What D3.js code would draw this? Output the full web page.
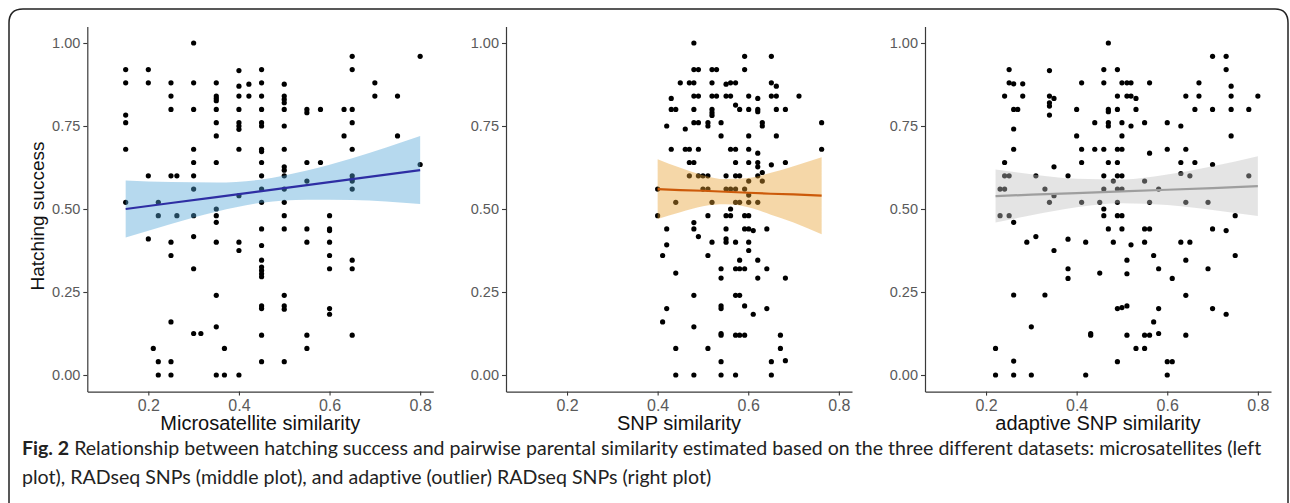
<!DOCTYPE html>
<html>
<head>
<meta charset="utf-8">
<script src="https://cdn.jsdelivr.net/npm/d3@7"></script>
<style>
	body { margin: 0; background: #fff; }
	svg { display: block; }
	.caption { font-variant-ligatures: none; }
</style>
</head>
<body>
<svg id="chart" width="1290" height="503"></svg>
<script>
//Data

const X_TICKS = [0.2, 0.4, 0.6, 0.8];
const Y_TICKS = [0, 0.25, 0.5, 0.75, 1];
const X_TITLES = ["Microsatellite similarity", "SNP similarity", "adaptive SNP similarity"];
const Y_TITLE = "Hatching success";
const CAPTION_BOLD = "Fig. 2";
const CAPTION_LINES = [
	" Relationship between hatching success and pairwise parental similarity estimated based on the three different datasets: microsatellites (left",
	"plot), RADseq SNPs (middle plot), and adaptive (outlier) RADseq SNPs (right plot)"
];

// microsatellites [similarity, hatching success]
const microsatPoints = [
	[0.15, 0.92], [0.15, 0.88], [0.15, 0.783], [0.15, 0.76], [0.15, 0.68], [0.15, 0.52],
	[0.20, 0.92], [0.20, 0.88], [0.20, 0.60], [0.20, 0.41], [0.211, 0.08],
	[0.222, 0.52], [0.222, 0.48], [0.222, 0.04], [0.222, 0],
	[0.25, 0.88], [0.25, 0.84], [0.25, 0.80], [0.25, 0.60], [0.25, 0.40], [0.25, 0.36], [0.25, 0.16], [0.25, 0.04], [0.25, 0],
	[0.263, 0.60], [0.263, 0.48],
	[0.30, 1.0], [0.30, 0.88], [0.30, 0.80], [0.30, 0.68], [0.30, 0.64], [0.30, 0.60], [0.30, 0.56], [0.30, 0.48], [0.30, 0.417], [0.30, 0.32], [0.30, 0.125],
	[0.316, 0.125],
	[0.35, 0.88], [0.35, 0.84], [0.35, 0.833], [0.35, 0.826], [0.35, 0.80], [0.35, 0.76], [0.35, 0.72], [0.35, 0.64], [0.35, 0.50], [0.35, 0.48], [0.35, 0.46], [0.35, 0.40], [0.35, 0.24], [0.35, 0.145], [0.35, 0],
	[0.368, 0.08], [0.368, 0],
	[0.40, 0.917], [0.40, 0.87], [0.40, 0.84], [0.40, 0.80], [0.40, 0.76], [0.40, 0.75], [0.40, 0.74], [0.40, 0.68], [0.40, 0.54], [0.40, 0.40], [0.40, 0.375], [0.40, 0],
	[0.422, 0.876], [0.422, 0.84],
	[0.45, 0.92], [0.45, 0.88], [0.45, 0.84], [0.45, 0.80], [0.45, 0.76], [0.45, 0.75], [0.45, 0.68], [0.45, 0.673], [0.45, 0.64], [0.45, 0.60], [0.45, 0.56], [0.45, 0.52], [0.45, 0.44], [0.45, 0.39],
	[0.45, 0.346], [0.45, 0.325], [0.45, 0.315], [0.45, 0.305], [0.45, 0.296], [0.45, 0.208], [0.45, 0.20], [0.45, 0.12], [0.45, 0.04],
	[0.50, 0.876], [0.50, 0.84], [0.50, 0.83], [0.50, 0.82], [0.50, 0.80], [0.50, 0.75], [0.50, 0.68], [0.50, 0.627], [0.50, 0.617], [0.50, 0.60], [0.50, 0.56], [0.50, 0.52], [0.50, 0.48], [0.50, 0.44],
	[0.50, 0.24], [0.50, 0.208], [0.50, 0.198], [0.50, 0.04],
	[0.55, 0.80], [0.55, 0.79], [0.55, 0.64], [0.55, 0.584], [0.55, 0.44], [0.55, 0.40], [0.55, 0.12], [0.55, 0.08],
	[0.58, 0.80], [0.58, 0.64],
	[0.60, 0.48], [0.60, 0.44], [0.60, 0.435], [0.60, 0.40], [0.60, 0.36], [0.60, 0.32], [0.60, 0.20], [0.60, 0.183],
	[0.632, 0.80], [0.632, 0.72],
	[0.65, 0.96], [0.65, 0.92], [0.65, 0.80], [0.65, 0.76], [0.65, 0.68], [0.65, 0.60], [0.65, 0.59], [0.65, 0.584], [0.65, 0.56], [0.65, 0.346], [0.65, 0.32], [0.65, 0.12],
	[0.70, 0.88], [0.70, 0.84], [0.75, 0.84], [0.75, 0.72], [0.80, 0.96], [0.80, 0.634]
];

// RADseq SNPs
const snpPoints = [
	[0.48, 1.0], [0.592, 0.96], [0.651, 0.96],
	[0.48, 0.92], [0.49, 0.92], [0.52, 0.92], [0.53, 0.92], [0.592, 0.92],
	[0.45, 0.88], [0.47, 0.88], [0.48, 0.88], [0.52, 0.88], [0.551, 0.876], [0.561, 0.88], [0.572, 0.88], [0.651, 0.88], [0.662, 0.87],
	[0.48, 0.84], [0.49, 0.84], [0.52, 0.84], [0.53, 0.84], [0.551, 0.84], [0.561, 0.84], [0.601, 0.84], [0.651, 0.84], [0.662, 0.84], [0.712, 0.84], [0.43, 0.833], [0.621, 0.833],
	[0.43, 0.80], [0.44, 0.80], [0.48, 0.80], [0.52, 0.80], [0.572, 0.813], [0.581, 0.80], [0.601, 0.80], [0.621, 0.80], [0.662, 0.80], [0.682, 0.80], [0.52, 0.79], [0.52, 0.782], [0.621, 0.793],
	[0.48, 0.76], [0.49, 0.76], [0.511, 0.76], [0.54, 0.76], [0.631, 0.76], [0.762, 0.76], [0.42, 0.75], [0.461, 0.741], [0.511, 0.75], [0.631, 0.75],
	[0.54, 0.72], [0.601, 0.72], [0.662, 0.72],
	[0.43, 0.68], [0.461, 0.68], [0.47, 0.68], [0.49, 0.68], [0.561, 0.68], [0.572, 0.68], [0.601, 0.68], [0.762, 0.68], [0.621, 0.668],
	[0.47, 0.64], [0.48, 0.64], [0.572, 0.64], [0.601, 0.64], [0.621, 0.64], [0.682, 0.64], [0.651, 0.633], [0.621, 0.627],
	[0.47, 0.60], [0.49, 0.60], [0.50, 0.60], [0.511, 0.60], [0.551, 0.60], [0.572, 0.60], [0.581, 0.60], [0.621, 0.60], [0.631, 0.61],
	[0.601, 0.584], [0.631, 0.584],
	[0.40, 0.56], [0.50, 0.56], [0.511, 0.56], [0.551, 0.56], [0.561, 0.56], [0.572, 0.56], [0.592, 0.56], [0.601, 0.542],
	[0.44, 0.52], [0.52, 0.52], [0.572, 0.52], [0.581, 0.52], [0.601, 0.52], [0.621, 0.52], [0.561, 0.50],
	[0.40, 0.48], [0.511, 0.48], [0.551, 0.48], [0.561, 0.48], [0.592, 0.48], [0.601, 0.48], [0.48, 0.459],
	[0.42, 0.44], [0.48, 0.44], [0.551, 0.44], [0.592, 0.44], [0.601, 0.44], [0.611, 0.435], [0.641, 0.44], [0.49, 0.417],
	[0.52, 0.40], [0.551, 0.40], [0.551, 0.41], [0.572, 0.40], [0.601, 0.40], [0.42, 0.392], [0.601, 0.375],
	[0.411, 0.36], [0.511, 0.36], [0.581, 0.346], [0.621, 0.346],
	[0.54, 0.32], [0.572, 0.32], [0.581, 0.32], [0.592, 0.32], [0.641, 0.32], [0.44, 0.307],
	[0.54, 0.292], [0.621, 0.292], [0.682, 0.292],
	[0.48, 0.24], [0.572, 0.24], [0.581, 0.24],
	[0.54, 0.208], [0.54, 0.20], [0.592, 0.208], [0.42, 0.20], [0.641, 0.20], [0.611, 0.183], [0.411, 0.16], [0.48, 0.145],
	[0.54, 0.125], [0.54, 0.12], [0.572, 0.12], [0.581, 0.12], [0.592, 0.12], [0.671, 0.12],
	[0.44, 0.08], [0.511, 0.08], [0.671, 0.08],
	[0.54, 0.04], [0.651, 0.04], [0.682, 0.043],
	[0.44, 0], [0.48, 0], [0.54, 0], [0.572, 0], [0.651, 0]
];

// adaptive (outlier) RADseq SNPs
const adaptivePoints = [
	[0.251, 0.92], [0.251, 0.88], [0.261, 0.877], [0.281, 0.877], [0.241, 0.84], [0.281, 0.84], [0.261, 0.80], [0.27, 0.80],
	[0.261, 0.741], [0.261, 0.68], [0.241, 0.64], [0.241, 0.60], [0.251, 0.60], [0.31, 0.60], [0.231, 0.56], [0.241, 0.56],
	[0.231, 0.48], [0.251, 0.48], [0.261, 0.46], [0.29, 0.40], [0.31, 0.417], [0.261, 0.241], [0.30, 0.145], [0.221, 0.08],
	[0.261, 0.042], [0.221, 0], [0.261, 0], [0.30, 0],
	[0.34, 0.917], [0.34, 0.84], [0.35, 0.833], [0.34, 0.82], [0.34, 0.81], [0.34, 0.783], [0.40, 0.80], [0.40, 0.72],
	[0.35, 0.627], [0.381, 0.60], [0.33, 0.56], [0.34, 0.52], [0.35, 0.54], [0.381, 0.409], [0.35, 0.375], [0.381, 0.32], [0.381, 0.291], [0.33, 0.241],
	[0.47, 1.0], [0.70, 0.96], [0.73, 0.96], [0.46, 0.92], [0.49, 0.92], [0.73, 0.92],
	[0.411, 0.88], [0.46, 0.88], [0.50, 0.88], [0.511, 0.88], [0.52, 0.88], [0.561, 0.88], [0.67, 0.88], [0.741, 0.87],
	[0.49, 0.84], [0.511, 0.84], [0.52, 0.84], [0.641, 0.84], [0.67, 0.84], [0.741, 0.84], [0.80, 0.84], [0.531, 0.833],
	[0.49, 0.80], [0.531, 0.80], [0.661, 0.80], [0.70, 0.80], [0.741, 0.80], [0.78, 0.80], [0.47, 0.80], [0.47, 0.793],
	[0.44, 0.76], [0.47, 0.76], [0.50, 0.76], [0.55, 0.76], [0.60, 0.76], [0.47, 0.75], [0.52, 0.75], [0.63, 0.75],
	[0.50, 0.72], [0.741, 0.72],
	[0.411, 0.68], [0.44, 0.68], [0.46, 0.68], [0.49, 0.68], [0.50, 0.68], [0.60, 0.68], [0.641, 0.68], [0.561, 0.668],
	[0.411, 0.64], [0.47, 0.64], [0.49, 0.64], [0.63, 0.64], [0.661, 0.64], [0.70, 0.634],
	[0.46, 0.60], [0.49, 0.60], [0.50, 0.60], [0.78, 0.60], [0.63, 0.607], [0.65, 0.60], [0.481, 0.584], [0.55, 0.584],
	[0.46, 0.56], [0.49, 0.56], [0.50, 0.56], [0.581, 0.56],
	[0.411, 0.52], [0.451, 0.52], [0.49, 0.52], [0.561, 0.52], [0.641, 0.52], [0.69, 0.52], [0.46, 0.50],
	[0.46, 0.48], [0.49, 0.48], [0.50, 0.48], [0.75, 0.48],
	[0.47, 0.44], [0.50, 0.44], [0.55, 0.44], [0.561, 0.44], [0.70, 0.44], [0.73, 0.435],
	[0.42, 0.40], [0.481, 0.40], [0.55, 0.40], [0.63, 0.40], [0.65, 0.40], [0.52, 0.392],
	[0.57, 0.36], [0.75, 0.36], [0.511, 0.346], [0.641, 0.346], [0.581, 0.32], [0.69, 0.32], [0.451, 0.307], [0.511, 0.305], [0.611, 0.291],
	[0.641, 0.24], [0.49, 0.20], [0.50, 0.203], [0.511, 0.208], [0.581, 0.20], [0.70, 0.20], [0.73, 0.183], [0.57, 0.16],
	[0.431, 0.12], [0.431, 0.125], [0.511, 0.12], [0.55, 0.12], [0.561, 0.12], [0.581, 0.125], [0.641, 0.12],
	[0.531, 0.08], [0.55, 0.08], [0.49, 0.04], [0.60, 0.04], [0.611, 0.04], [0.42, 0], [0.60, 0]
];

// fitted lines and confidence bands
const microsatFitX = [0.15, 0.25, 0.35, 0.45, 0.55, 0.65, 0.80];
const microsatFit = [0.50, 0.518, 0.536, 0.554, 0.572, 0.59, 0.617];
const microsatUpper = [0.586, 0.581, 0.580, 0.589, 0.616, 0.653, 0.72];
const microsatLower = [0.414, 0.455, 0.492, 0.519, 0.528, 0.527, 0.515];

const snpFitX = [0.40, 0.45, 0.50, 0.55, 0.60, 0.65, 0.70, 0.762];
const snpFit = [0.56, 0.557, 0.555, 0.552, 0.549, 0.546, 0.544, 0.54];
const snpUpper = [0.650, 0.624, 0.602, 0.590, 0.593, 0.609, 0.629, 0.656];
const snpLower = [0.470, 0.490, 0.508, 0.514, 0.505, 0.483, 0.459, 0.424];

const adaptiveFitX = [0.221, 0.30, 0.40, 0.50, 0.60, 0.70, 0.80];
const adaptiveFit = [0.539, 0.543, 0.548, 0.553, 0.558, 0.563, 0.569];
const adaptiveUpper = [0.619, 0.605, 0.591, 0.589, 0.604, 0.629, 0.659];
const adaptiveLower = [0.459, 0.481, 0.505, 0.517, 0.512, 0.497, 0.479];


//Layout

const PANEL_LEFT = [87.3, 506, 925];
const PANEL_WIDTH = 346;
const PLOT_TOP = 26.4;
const PLOT_BOTTOM = 391.6;
const X_DOMAIN = [0.0653, 0.829];
const Y_DOMAIN = [-0.05, 1.05];
const FONT = "'Liberation Sans', Arial, sans-serif";

const panels = [
	{ points: microsatPoints, fx: microsatFitX, fy: microsatFit, up: microsatUpper, lo: microsatLower, line: "#2e2ea3", band: "#50a5d7" },
	{ points: snpPoints, fx: snpFitX, fy: snpFit, up: snpUpper, lo: snpLower, line: "#cc5a0a", band: "#e8a030" },
	{ points: adaptivePoints, fx: adaptiveFitX, fy: adaptiveFit, up: adaptiveUpper, lo: adaptiveLower, line: "#9e9e9e", band: "#bebebe" }
];

const svg = d3.select("#chart");

// frame around the figure
svg.append("path")
	.attr("d", "M9,503 L9,23 Q9,9 23,9 L1275,9 Q1288,9 1288,23 L1288,503")
	.attr("fill", "none")
	.attr("stroke", "#222")
	.attr("stroke-width", 1.5);

const yScale = d3.scaleLinear().domain(Y_DOMAIN).range([PLOT_BOTTOM, PLOT_TOP]);

panels.forEach(function (p, i) {
	const x0 = PANEL_LEFT[i];
	const xScale = d3.scaleLinear().domain(X_DOMAIN).range([x0, x0 + PANEL_WIDTH]);
	const g = svg.append("g");

	// points
	g.selectAll(".dot")
		.data(p.points)
		.enter().append("circle")
		.attr("class", "dot")
		.attr("cx", function (d) { return xScale(d[0]); })
		.attr("cy", function (d) { return yScale(d[1]); })
		.attr("r", 2.6)
		.attr("fill", "#000");

	// confidence band, drawn over the points like geom_smooth
	const bandData = p.fx.map(function (x, k) { return { x: x, up: p.up[k], lo: p.lo[k], fit: p.fy[k] }; });
	const area = d3.area()
		.x(function (d) { return xScale(d.x); })
		.y0(function (d) { return yScale(d.lo); })
		.y1(function (d) { return yScale(d.up); })
		.curve(d3.curveMonotoneX);
	g.append("path")
		.datum(bandData)
		.attr("d", area)
		.attr("fill", p.band)
		.attr("fill-opacity", 0.42);

	const line = d3.line()
		.x(function (d) { return xScale(d.x); })
		.y(function (d) { return yScale(d.fit); });
	g.append("path")
		.datum(bandData)
		.attr("d", line)
		.attr("fill", "none")
		.attr("stroke", p.line)
		.attr("stroke-width", 2.2);

	// axes
	const yAxis = g.append("g")
		.attr("transform", "translate(" + x0 + ",0)")
		.call(d3.axisLeft(yScale).tickValues(Y_TICKS).tickFormat(d3.format(".2f")).tickSize(4).tickSizeOuter(0).tickPadding(3));
	const xAxis = g.append("g")
		.attr("transform", "translate(0," + PLOT_BOTTOM + ")")
		.call(d3.axisBottom(xScale).tickValues(X_TICKS).tickFormat(d3.format(".1f")).tickSize(4).tickSizeOuter(0).tickPadding(4));

	[yAxis, xAxis].forEach(function (ax) {
		ax.select(".domain").attr("stroke", "#3a3a3a").attr("stroke-width", 1.2);
		ax.selectAll(".tick line").attr("stroke", "#3a3a3a").attr("stroke-width", 1.1);
		ax.selectAll(".tick text").attr("fill", "#5a5a5a").attr("font-family", FONT);
	});
	yAxis.selectAll(".tick text").attr("font-size", "14.5px");
	xAxis.selectAll(".tick text").attr("font-size", "16px");

	svg.append("text")
		.attr("x", x0 + PANEL_WIDTH / 2)
		.attr("y", 430)
		.attr("text-anchor", "middle")
		.attr("font-family", FONT)
		.attr("font-size", "20px")
		.attr("fill", "#111")
		.text(X_TITLES[i]);
});

svg.append("text")
	.attr("transform", "translate(44,216) rotate(-90)")
	.attr("text-anchor", "middle")
	.attr("font-family", FONT)
	.attr("font-size", "19px")
	.attr("fill", "#111")
	.text(Y_TITLE);

// caption, first line fitted to the frame width
const CAPTION_FONT = "Lato, 'Noto Sans', sans-serif";
const cap1 = svg.append("text")
	.attr("class", "caption")
	.attr("x", 22)
	.attr("y", 455)
	.attr("font-family", CAPTION_FONT)
	.attr("font-size", "17px")
	.attr("fill", "#222");
cap1.append("tspan").attr("font-weight", "bold").text(CAPTION_BOLD);
cap1.append("tspan").text(CAPTION_LINES[0]);

const cap2 = svg.append("text")
	.attr("class", "caption")
	.attr("x", 22)
	.attr("y", 484)
	.attr("font-family", CAPTION_FONT)
	.attr("font-size", "17px")
	.attr("fill", "#222")
	.text(CAPTION_LINES[1]);

const capSize = 17 * 1240 / cap1.node().getComputedTextLength();
cap1.attr("font-size", capSize + "px");
cap2.attr("font-size", capSize + "px");
</script>
</body>
</html>
